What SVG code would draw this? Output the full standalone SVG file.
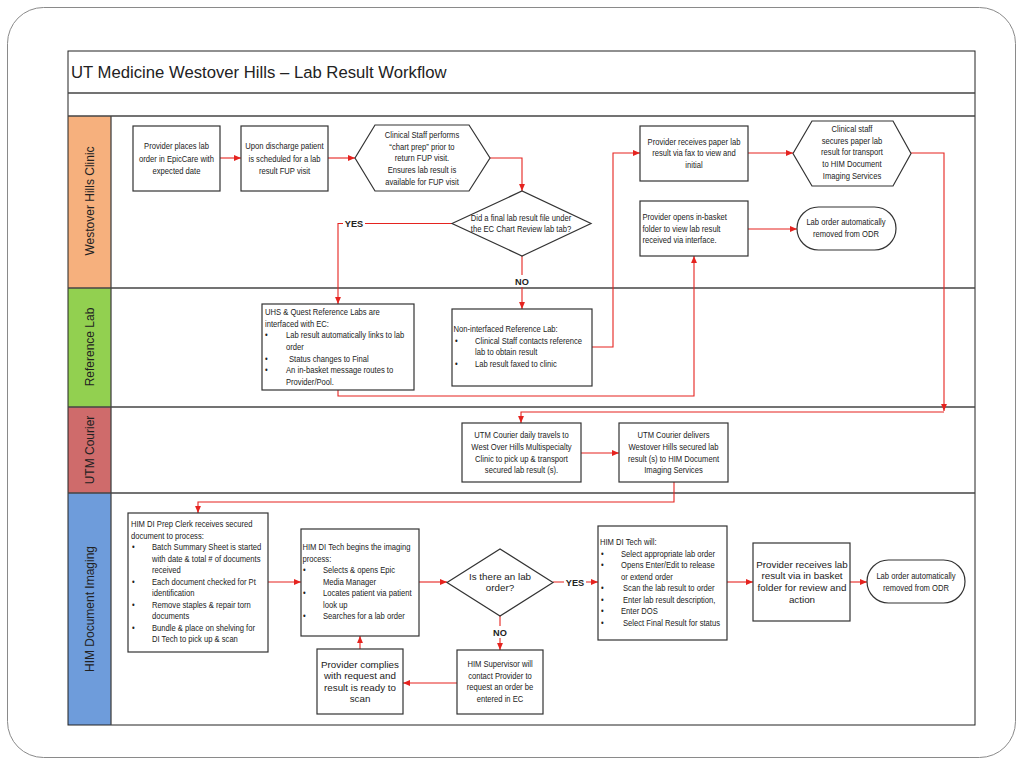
<svg xmlns="http://www.w3.org/2000/svg" width="1024" height="768" viewBox="0 0 1024 768">
<defs>
<style>
.frame{fill:none;stroke:#222;stroke-width:1}
.sep{stroke:#444;stroke-width:1.3}
.box{fill:#fff;stroke:#333;stroke-width:1.2}
.c{fill:none;stroke:#e5231f;stroke-width:1.1}
.t{font-family:"Liberation Sans",Arial,sans-serif;font-size:9.3px;fill:#222}
.m{text-anchor:middle}
.big{font-family:"Liberation Sans",Arial,sans-serif;font-size:9.8px;fill:#222}
.lbl{font-family:"Liberation Sans",Arial,sans-serif;font-size:9.2px;font-weight:bold;fill:#222;text-anchor:middle}
.lane{font-family:"Liberation Sans",Arial,sans-serif;font-size:12px;fill:#222;text-anchor:middle}
</style>
<marker id="arr" viewBox="0 0 10 10" refX="10" refY="5" markerWidth="7" markerHeight="7" markerUnits="userSpaceOnUse" orient="auto">
<path d="M0,0.8 L10,5 L0,9.2 z" fill="#e5231f"/>
</marker>
</defs>
<rect x="0" y="0" width="1024" height="768" fill="#fff"/>
<rect x="7.5" y="7.5" width="1008" height="750" rx="36" ry="36" fill="none" stroke="#8a8a8a" stroke-width="1"/>

<g id="lanes">
<rect x="68" y="116" width="43" height="172" fill="#f6b07d"/>
<rect x="68" y="288" width="43" height="119" fill="#92d050"/>
<rect x="68" y="407" width="43" height="86" fill="#cf6b6b"/>
<rect x="68" y="493" width="43" height="232" fill="#6e9cdb"/>
<rect class="frame" x="68" y="51" width="907" height="674"/>
<line class="sep" x1="68" y1="93" x2="975" y2="93"/>
<line class="sep" x1="68" y1="116" x2="975" y2="116"/>
<line class="sep" x1="68" y1="288" x2="975" y2="288"/>
<line class="sep" x1="68" y1="407" x2="975" y2="407"/>
<line class="sep" x1="68" y1="493" x2="975" y2="493"/>
<line class="sep" x1="111" y1="116" x2="111" y2="725"/>
<text x="71" y="77.5" font-family="Liberation Sans, Arial, sans-serif" font-size="16.7" fill="#222">UT Medicine Westover Hills – Lab Result Workflow</text>
<text class="lane" transform="translate(93.5,201) rotate(-90)">Westover Hills Clinic</text>
<text class="lane" transform="translate(93.5,347) rotate(-90)">Reference Lab</text>
<text class="lane" transform="translate(93.5,450) rotate(-90)">UTM Courier</text>
<text class="lane" transform="translate(93.5,609) rotate(-90)">HIM Document Imaging</text>
</g>

<g id="connectors">
<path class="c" d="M220,158 H241" marker-end="url(#arr)"/>
<path class="c" d="M328,158 H355" marker-end="url(#arr)"/>
<path class="c" d="M490,158 H522 V191" marker-end="url(#arr)"/>
<path class="c" d="M452,223.5 H338 V304" marker-end="url(#arr)"/>
<path class="c" d="M522,256 V309" marker-end="url(#arr)"/>
<path class="c" d="M592,347 H613 V153 H640" marker-end="url(#arr)"/>
<path class="c" d="M338,390 V396 H694 V256" marker-end="url(#arr)"/>
<path class="c" d="M748,153 H793" marker-end="url(#arr)"/>
<path class="c" d="M748,229 H797" marker-end="url(#arr)"/>
<path class="c" d="M911,153 H944 V411" marker-end="url(#arr)"/>
<path class="c" d="M944,412 H521 V423" marker-end="url(#arr)"/>
<path class="c" d="M581,453 H619" marker-end="url(#arr)"/>
<path class="c" d="M674,482 V502 H198 V513" marker-end="url(#arr)"/>
<path class="c" d="M268,582 H301" marker-end="url(#arr)"/>
<path class="c" d="M419,582 H447" marker-end="url(#arr)"/>
<path class="c" d="M553,582 H598" marker-end="url(#arr)"/>
<path class="c" d="M500,616 V650" marker-end="url(#arr)"/>
<path class="c" d="M457,683 H403" marker-end="url(#arr)"/>
<path class="c" d="M360,649 V636" marker-end="url(#arr)"/>
<path class="c" d="M727,582 H753" marker-end="url(#arr)"/>
<path class="c" d="M850,582 H867" marker-end="url(#arr)"/>
<rect x="343" y="217" width="22" height="12" fill="#fff"/>
<text class="lbl" x="354" y="227">YES</text>
<rect x="513" y="275" width="18" height="12" fill="#fff"/>
<text class="lbl" x="522" y="285">NO</text>
<rect x="564" y="576" width="22" height="12" fill="#fff"/>
<text class="lbl" x="575" y="586">YES</text>
<rect x="491" y="626" width="18" height="12" fill="#fff"/>
<text class="lbl" x="500" y="636">NO</text>
</g>

<g id="n-place-order">
<rect class="box" x="133" y="126" width="87" height="65"/>
<text class="t m" transform="scale(0.82,1)" y="149.3"><tspan x="215.24">Provider places lab</tspan><tspan x="215.24" dy="12.4">order in EpicCare with</tspan><tspan x="215.24" dy="12.4">expected date</tspan></text>
</g>
<g id="n-discharge">
<rect class="box" x="241" y="126" width="87" height="65"/>
<text class="t m" transform="scale(0.82,1)" y="149.3"><tspan x="346.95">Upon discharge patient</tspan><tspan x="346.95" dy="12.4">is scheduled for a lab</tspan><tspan x="346.95" dy="12.4">result FUP visit</tspan></text>
</g>
<g id="n-chart-prep">
<polygon class="box" points="355,158 375,125 469,125 490,158 469,191 375,191"/>
<text class="t m" transform="scale(0.82,1)" y="138.3"><tspan x="514.63">Clinical Staff performs</tspan><tspan x="514.63" dy="11.6">“chart prep” prior to</tspan><tspan x="514.63" dy="11.6">return FUP visit.</tspan><tspan x="514.63" dy="11.6">Ensures lab result is</tspan><tspan x="514.63" dy="11.6">available for FUP visit</tspan></text>
</g>
<g id="n-final-decision">
<polygon class="box" points="452,223.5 522,191 591,223.5 522,256"/>
<text class="t m" transform="scale(0.82,1)" y="221.5"><tspan x="635.37">Did a final lab result file under</tspan><tspan x="635.37" dy="10.5">the EC Chart Review lab tab?</tspan></text>
</g>
<g id="n-fax">
<rect class="box" x="640" y="126" width="108" height="55"/>
<text class="t m" transform="scale(0.82,1)" y="145"><tspan x="846.34">Provider receives paper lab</tspan><tspan x="846.34" dy="11.5">result via fax to view and</tspan><tspan x="846.34" dy="11.5">initial</tspan></text>
</g>
<g id="n-secure">
<polygon class="box" points="793,153.5 812,121 893,121 911,153.5 893,186 812,186"/>
<text class="t m" transform="scale(0.82,1)" y="132.3"><tspan x="1039.02">Clinical staff</tspan><tspan x="1039.02" dy="11.6">secures paper lab</tspan><tspan x="1039.02" dy="11.6">result for transport</tspan><tspan x="1039.02" dy="11.6">to HIM Document</tspan><tspan x="1039.02" dy="11.6">Imaging Services</tspan></text>
</g>
<g id="n-inbasket">
<rect class="box" x="640" y="201" width="108" height="55"/>
<text class="t" transform="scale(0.82,1)" y="220.3"><tspan x="783.54">Provider opens in-basket</tspan><tspan x="783.54" dy="11.6">folder to view lab result</tspan><tspan x="783.54" dy="11.6">received via interface.</tspan></text>
</g>
<g id="n-odr1">
<rect class="box" x="797" y="207" width="99" height="43" rx="21.5" ry="21.5"/>
<text class="t m" transform="scale(0.82,1)" y="225.3"><tspan x="1031.71">Lab order automatically</tspan><tspan x="1031.71" dy="12">removed from ODR</tspan></text>
</g>
<g id="n-uhs">
<rect class="box" x="262" y="304" width="152" height="86"/>
<text class="t" transform="scale(0.82,1)" y="315.3"><tspan x="323.17">UHS &amp; Quest Reference Labs are</tspan><tspan x="323.17" dy="11.6">interfaced with EC:</tspan><tspan x="323.17" dy="11.6">•</tspan><tspan x="348.78">Lab result automatically links to lab</tspan><tspan x="348.78" dy="11.6">order</tspan><tspan x="323.17" dy="11.6">•</tspan><tspan x="352.44">Status changes to Final</tspan><tspan x="323.17" dy="11.6">•</tspan><tspan x="348.78">An in-basket message routes to</tspan><tspan x="348.78" dy="11.6">Provider/Pool.</tspan></text>
</g>
<g id="n-noninterfaced">
<rect class="box" x="452" y="309" width="140" height="77"/>
<text class="t" transform="scale(0.82,1)" y="332.3"><tspan x="553.05">Non-interfaced Reference Lab:</tspan><tspan x="554.88" dy="11.6">•</tspan><tspan x="579.27">Clinical Staff contacts reference</tspan><tspan x="579.27" dy="11.6">lab to obtain result</tspan><tspan x="554.88" dy="11.6">•</tspan><tspan x="579.27">Lab result faxed to clinic</tspan></text>
</g>
<g id="n-courier-travel">
<rect class="box" x="462" y="423" width="119" height="59"/>
<text class="t m" transform="scale(0.82,1)" y="438.3"><tspan x="635.98">UTM Courier daily travels to</tspan><tspan x="635.98" dy="11.7">West Over Hills Multispecialty</tspan><tspan x="635.98" dy="11.7">Clinic to pick up &amp; transport</tspan><tspan x="635.98" dy="11.7">secured lab result (s).</tspan></text>
</g>
<g id="n-courier-deliver">
<rect class="box" x="619" y="423" width="109" height="59"/>
<text class="t m" transform="scale(0.82,1)" y="438.3"><tspan x="821.34">UTM Courier delivers</tspan><tspan x="821.34" dy="11.7">Westover Hills secured lab</tspan><tspan x="821.34" dy="11.7">result (s) to HIM Document</tspan><tspan x="821.34" dy="11.7">Imaging Services</tspan></text>
</g>
<g id="n-prep-clerk">
<rect class="box" x="128" y="513" width="140" height="139"/>
<text class="t" transform="scale(0.82,1)" y="527.3"><tspan x="159.76">HIM DI Prep Clerk receives secured</tspan><tspan x="159.76" dy="11.5">document to process:</tspan><tspan x="160.98" dy="11.5">•</tspan><tspan x="185.37">Batch Summary Sheet is started</tspan><tspan x="185.37" dy="11.5">with date &amp; total # of documents</tspan><tspan x="185.37" dy="11.5">received</tspan><tspan x="160.98" dy="11.5">•</tspan><tspan x="185.37">Each document checked for Pt</tspan><tspan x="185.37" dy="11.5">identification</tspan><tspan x="160.98" dy="11.5">•</tspan><tspan x="185.37">Remove staples &amp; repair torn</tspan><tspan x="185.37" dy="11.5">documents</tspan><tspan x="160.98" dy="11.5">•</tspan><tspan x="185.37">Bundle &amp; place on shelving for</tspan><tspan x="185.37" dy="11.5">DI Tech to pick up &amp; scan</tspan></text>
</g>
<g id="n-tech-begins">
<rect class="box" x="301" y="529" width="118" height="107"/>
<text class="t" transform="scale(0.82,1)" y="550.3"><tspan x="368.9">HIM DI Tech begins the imaging</tspan><tspan x="368.9" dy="11.5">process:</tspan><tspan x="369.51" dy="11.5">•</tspan><tspan x="393.9">Selects &amp; opens Epic</tspan><tspan x="393.9" dy="11.5">Media Manager</tspan><tspan x="369.51" dy="11.5">•</tspan><tspan x="393.9">Locates patient via patient</tspan><tspan x="393.9" dy="11.5">look up</tspan><tspan x="369.51" dy="11.5">•</tspan><tspan x="393.9">Searches for a lab order</tspan></text>
</g>
<g id="n-lab-order-decision">
<polygon class="box" points="447,582.5 500,549 553,582.5 500,616"/>
<text class="big m" x="500" y="579.5"><tspan x="500">Is there an lab</tspan><tspan x="500" dy="11.3">order?</tspan></text>
</g>
<g id="n-supervisor">
<rect class="box" x="457" y="650" width="86" height="64"/>
<text class="t m" transform="scale(0.82,1)" y="667.3"><tspan x="609.76">HIM Supervisor will</tspan><tspan x="609.76" dy="11.6">contact Provider to</tspan><tspan x="609.76" dy="11.6">request an order be</tspan><tspan x="609.76" dy="11.6">entered in EC</tspan></text>
</g>
<g id="n-complies">
<rect class="box" x="317" y="649" width="86" height="65"/>
<text class="big m" x="360" y="667.5"><tspan x="360">Provider complies</tspan><tspan x="360" dy="11.6">with request and</tspan><tspan x="360" dy="11.6">result is ready to</tspan><tspan x="360" dy="11.6">scan</tspan></text>
</g>
<g id="n-tech-will">
<rect class="box" x="598" y="526" width="129" height="114"/>
<text class="t" transform="scale(0.82,1)" y="545.3"><tspan x="731.71">HIM DI Tech will:</tspan><tspan x="732.93" dy="11.5">•</tspan><tspan x="757.32">Select appropriate lab order</tspan><tspan x="732.93" dy="11.5">•</tspan><tspan x="757.32">Opens Enter/Edit to release</tspan><tspan x="757.32" dy="11.5">or extend order</tspan><tspan x="732.93" dy="11.5">•</tspan><tspan x="759.76">Scan the lab result to order</tspan><tspan x="732.93" dy="11.5">•</tspan><tspan x="759.76">Enter lab result description,</tspan><tspan x="732.93" dy="11.5">•</tspan><tspan x="757.32">Enter DOS</tspan><tspan x="732.93" dy="11.5">•</tspan><tspan x="759.76">Select Final Result for status</tspan></text>
</g>
<g id="n-provider-receives">
<rect class="box" x="753" y="543" width="97" height="78"/>
<text class="big m" x="802" y="567.5"><tspan x="802">Provider receives lab</tspan><tspan x="802" dy="11.7">result via in basket</tspan><tspan x="802" dy="11.7">folder for review and</tspan><tspan x="802" dy="11.7">action</tspan></text>
</g>
<g id="n-odr2">
<rect class="box" x="867" y="560" width="98" height="43" rx="21.5" ry="21.5"/>
<text class="t m" transform="scale(0.82,1)" y="579.3"><tspan x="1117.07">Lab order automatically</tspan><tspan x="1117.07" dy="12">removed from ODR</tspan></text>
</g>
</svg>
